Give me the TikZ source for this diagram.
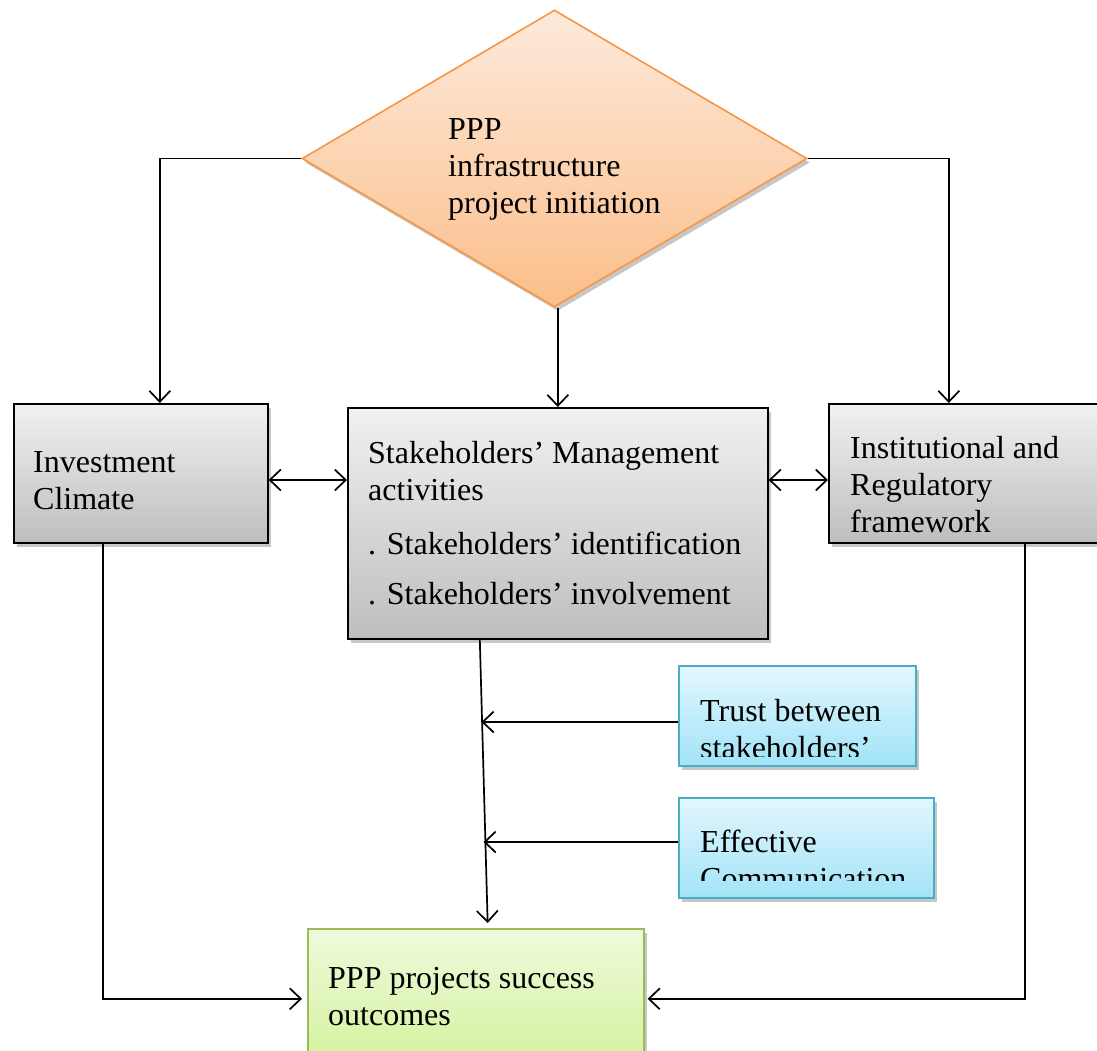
\documentclass[tikz,border=0pt]{standalone}
\usepackage{fontspec}
\setmainfont{Liberation Serif}
\usetikzlibrary{shapes.geometric,arrows.meta,shadows}
\definecolor{gtop}{HTML}{F1F1F1}
\definecolor{gbot}{HTML}{BEBEBE}
\definecolor{otop}{HTML}{FDEADB}
\definecolor{obot}{HTML}{FBBE8A}
\definecolor{oline}{HTML}{F79646}
\definecolor{ctop}{HTML}{E2F7FD}
\definecolor{cbot}{HTML}{A2E3F7}
\definecolor{cline}{HTML}{4BACC6}
\definecolor{ltop}{HTML}{EFFADD}
\definecolor{lbot}{HTML}{D3F29A}
\definecolor{lline}{HTML}{9BBB59}
\newcommand\mlines[1]{\vtop{#1}}
\tikzset{
  shd/.style={drop shadow={shadow xshift=3pt,shadow yshift=-4pt,opacity=0.22,fill=black}},
  boxbase/.style={anchor=north west,inner sep=0pt,line width=1.6pt,shd},
  graybox/.style={boxbase,draw=black,top color=gtop,bottom color=gbot},
  cyanbox/.style={boxbase,draw=cline,top color=ctop,bottom color=cbot},
  greenbox/.style={boxbase,draw=lline,top color=ltop,bottom color=lbot},
  txt/.style={anchor=base west,inner sep=0pt,font=\fontsize{32}{37}\selectfont},
  tipx/.tip={Straight Barb[length=11pt,width=21pt,line width=1.7pt]},
  conn/.style={line width=1.7pt,-tipx},
  dconn/.style={line width=1.7pt,tipx-tipx},
}
\begin{document}
\begin{tikzpicture}[x=1pt,y=-1pt]
\useasboundingbox (0,0) rectangle (1097,1050);
\fill[white] (0,0) rectangle (1097,1050);

% diamond
\node[diamond,draw=oline,line width=1.6pt,top color=otop,bottom color=obot,
      minimum width=505pt,minimum height=297pt,inner sep=0pt,shd]
      (init) at (554.5,158.5) {};
\node[txt] (initt) at (448,139)
  {\mlines{\hbox{PPP}\hbox{infrastructure}\hbox{project initiation}}};

% gray boxes
\node[graybox,minimum width=254pt,minimum height=139pt] (inv) at (13,403) {};
\node[txt] (invt) at (33,472) {\mlines{\hbox{Investment}\hbox{Climate}}};

\node[graybox,minimum width=420pt,minimum height=231pt] (stk) at (347,407) {};
\node[txt] (stkt) at (368,463)
  {\mlines{\hbox{Stakeholders’ Management}\hbox{activities}\vskip17pt
   \hbox{. Stakeholders’ identification}\vskip13pt\hbox{. Stakeholders’ involvement}}};

\node[graybox,minimum width=290pt,minimum height=139pt] (ins) at (828,403) {};
\begin{scope}
\clip (828,403) rectangle (1100,534);
\node[txt] (inst) at (850,458)
  {\mlines{\hbox{Institutional and}\hbox{Regulatory}\hbox{framework}}};
\end{scope}

% cyan boxes
\node[cyanbox,minimum width=237pt,minimum height=100pt] (trust) at (678,665) {};
\begin{scope}
\clip (678,665) rectangle (915,756);
\node[txt] (trustt) at (700,721) {\mlines{\hbox{Trust between}\hbox{stakeholders’}}};
\end{scope}

\node[cyanbox,minimum width=255pt,minimum height=100pt] (eff) at (678,797) {};
\begin{scope}
\clip (678,797) rectangle (933,880);
\node[txt] (efft) at (700,852) {\mlines{\hbox{Effective}\hbox{Communication}}};
\end{scope}

% green box
\node[greenbox,minimum width=336pt,minimum height=140pt] (out) at (307,928) {};
\node[txt] (outt) at (328,988) {\mlines{\hbox{PPP projects success}\hbox{outcomes}}};

% connectors
\coordinate (hy) at (0,480);
\coordinate (m1) at (481.5,722);
\coordinate (m2) at (483.5,842);
\draw[conn] (init.west) -| ([xshift=19pt]inv.north);
\draw[conn] (init.east) -| ([xshift=-25pt]ins.north);
\draw[conn] (stk.north |- init.south) -- (stk.north);
\draw[dconn] (inv.east |- hy) -- (stk.west |- hy);
\draw[dconn] (stk.east |- hy) -- (ins.west |- hy);
\draw[conn,shorten >=5pt] ([xshift=-78pt]stk.south) -- ([xshift=12pt]out.north);
\draw[conn] (trust.west |- m1) -- (m1);
\draw[conn] (eff.west |- m2) -- (m2);
\draw[conn,shorten >=5pt] ([xshift=-38pt]inv.south) |- (out.west);
\draw[conn,shorten >=3pt] ([xshift=51pt]ins.south) |- (out.east);
\end{tikzpicture}
\end{document}
